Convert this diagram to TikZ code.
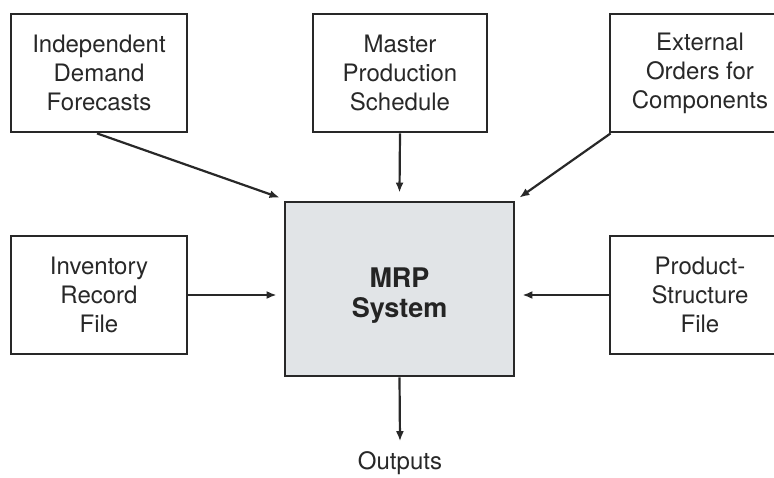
\documentclass[tikz,border=0pt]{standalone}
\usepackage{fontspec}
\setmainfont{TeX Gyre Heros}
\usetikzlibrary{arrows.meta,calc}
\definecolor{mrpgray}{RGB}{225,228,231}
\definecolor{ink}{RGB}{40,40,40}
\begin{document}
\begin{tikzpicture}[x=1pt,y=1pt,
  inbox/.style={draw=ink,line width=2.8pt,fill=white,align=center,
    font=\fontsize{24}{29}\selectfont,text=ink,inner sep=0pt},
  mrpbox/.style={draw=ink,line width=2.8pt,fill=mrpgray,
    minimum width=229pt,minimum height=174pt,inner sep=0pt},
  mrptext/.style={align=center,font=\fontsize{27}{30}\selectfont\bfseries,text=ink!90!black,inner sep=0pt},
  conn/.style={draw=ink,line width=2.2pt,-{Latex[length=10pt,width=8pt]}}]
\useasboundingbox (0,0) rectangle (774,477);
\node[inbox,minimum width=176pt,minimum height=118pt] (ind) at (99,404) {Independent\\Demand\\Forecasts};
\node[inbox,minimum width=174pt,minimum height=118pt] (mps) at (400,404) {Master\\Production\\Schedule};
\node[inbox,minimum width=180pt,minimum height=118pt] (ext) at (700,404) {External\\Orders for\\Components};
\node[inbox,minimum width=176pt,minimum height=118pt] (inv) at (99,182) {Inventory\\Record\\File};
\node[inbox,minimum width=180pt,minimum height=118pt] (psf) at (700,182) {Product-\\Structure\\File};
\node[mrpbox] (mrp) at (399.5,188) {};
\node[mrptext] (mrpt) at ($(mrp.center)+(0,-7)$) {MRP\\System};
\node[font=\fontsize{24}{29}\selectfont,text=ink,inner sep=0pt] (out) at (400,14) {Outputs};
\draw[conn] ($(ind.south)+(-2,0)$) -- ($(mrp.north west)+(-4,3)$);
\draw[conn] (mps.south) -- ($(mrp.north)+(0,8)$);
\draw[conn] ($(ext.south west)+(2,0)$) -- ($(mrp.north east)+(4,3)$);
\draw[conn] (inv.east) -- ($(inv.east -| mrp.west)+(-7,0)$);
\draw[conn] (psf.west) -- ($(psf.west -| mrp.east)+(7,0)$);
\draw[conn] (mrp.south) -- ($(out.north)+(0,10)$);
\end{tikzpicture}
\end{document}
